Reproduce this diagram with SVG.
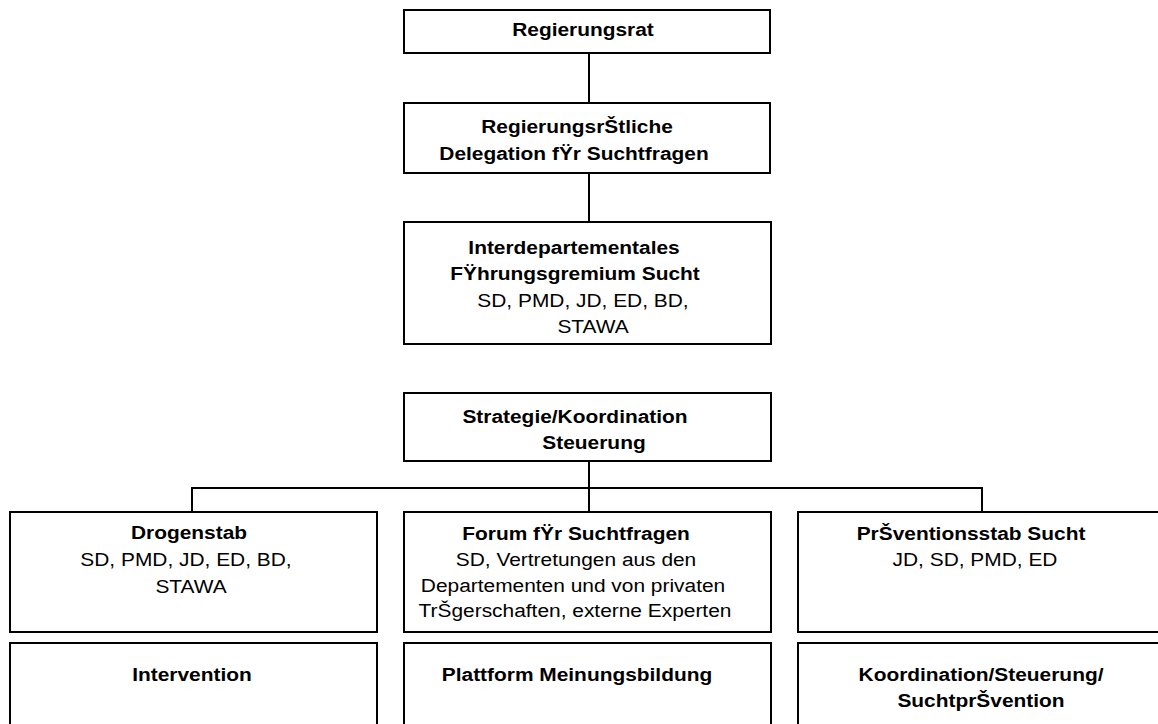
<svg xmlns="http://www.w3.org/2000/svg" width="1158" height="724" viewBox="0 0 1158 724">
<style>
.box{fill:#fff;stroke:#000;stroke-width:2}
.conn{fill:none;stroke:#000;stroke-width:2}
text{font-family:"Liberation Sans",Arial,sans-serif;font-size:19px;fill:#000;text-anchor:middle}
.b{font-weight:bold}
</style>
<rect width="1158" height="724" fill="#fff"/>
<g id="connectors">
<line class="conn" x1="589" y1="53" x2="589" y2="103"/>
<line class="conn" x1="589" y1="173" x2="589" y2="222"/>
<line class="conn" x1="589" y1="461" x2="589" y2="512"/>
<polyline class="conn" points="192,512 192,488 982,488 982,512"/>
</g>
<g id="regierungsrat">
<rect class="box" x="404" y="10" width="366" height="43"/>
<text class="b" transform="translate(583,36) scale(1.1,1)">Regierungsrat</text>
</g>
<g id="delegation">
<rect class="box" x="404" y="103" width="366" height="70"/>
<text class="b" transform="translate(577,133) scale(1.1,1)">RegierungsrŠtliche</text>
<text class="b" transform="translate(574,160) scale(1.1,1)">Delegation fŸr Suchtfragen</text>
</g>
<g id="fuehrungsgremium">
<rect class="box" x="404" y="222" width="367" height="122"/>
<text class="b" transform="translate(574,254) scale(1.1,1)">Interdepartementales</text>
<text class="b" transform="translate(575,280) scale(1.1,1)">FŸhrungsgremium Sucht</text>
<text transform="translate(583,307) scale(1.1,1)">SD, PMD, JD, ED, BD,</text>
<text transform="translate(593,333) scale(1.1,1)">STAWA</text>
</g>
<g id="strategie">
<rect class="box" x="404" y="393" width="367" height="68"/>
<text class="b" transform="translate(575,423) scale(1.1,1)">Strategie/Koordination</text>
<text class="b" transform="translate(594,449) scale(1.1,1)">Steuerung</text>
</g>
<g id="drogenstab">
<rect class="box" x="10" y="512" width="367" height="120"/>
<text class="b" transform="translate(189,539) scale(1.1,1)">Drogenstab</text>
<text transform="translate(186,566) scale(1.1,1)">SD, PMD, JD, ED, BD,</text>
<text transform="translate(191,593) scale(1.1,1)">STAWA</text>
</g>
<g id="intervention">
<rect class="box" x="10" y="643" width="367" height="100"/>
<text class="b" transform="translate(192,681) scale(1.1,1)">Intervention</text>
</g>
<g id="forum">
<rect class="box" x="404" y="512" width="367" height="120"/>
<text class="b" transform="translate(576,540) scale(1.1,1)">Forum fŸr Suchtfragen</text>
<text transform="translate(576,566) scale(1.1,1)">SD, Vertretungen aus den</text>
<text transform="translate(573,592) scale(1.1,1)">Departementen und von privaten</text>
<text transform="translate(575,617) scale(1.1,1)">TrŠgerschaften, externe Experten</text>
</g>
<g id="plattform">
<rect class="box" x="404" y="643" width="367" height="100"/>
<text class="b" transform="translate(577,681) scale(1.1,1)">Plattform Meinungsbildung</text>
</g>
<g id="praeventionsstab">
<rect class="box" x="798" y="512" width="380" height="120"/>
<text class="b" transform="translate(971,540) scale(1.1,1)">PrŠventionsstab Sucht</text>
<text transform="translate(975,566) scale(1.1,1)">JD, SD, PMD, ED</text>
</g>
<g id="koordination">
<rect class="box" x="798" y="643" width="380" height="100"/>
<text class="b" transform="translate(981,681) scale(1.1,1)">Koordination/Steuerung/</text>
<text class="b" transform="translate(981,707) scale(1.1,1)">SuchtprŠvention</text>
</g>
</svg>
